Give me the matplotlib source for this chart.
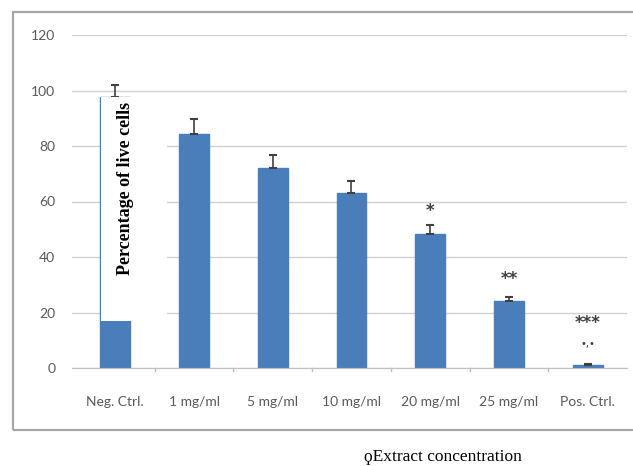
import matplotlib
matplotlib.use("Agg")
import matplotlib.pyplot as plt
from matplotlib.patches import Rectangle

categories = ["Neg. Ctrl.", "1 mg/ml", "5 mg/ml", "10 mg/ml", "20 mg/ml", "25 mg/ml", "Pos. Ctrl."]
values = [97.5, 84.3, 72.2, 63.0, 48.3, 24.1, 1.0]
errors = [4.5, 5.3, 4.5, 4.3, 3.2, 1.4, 0.3]
sig_labels = ["", "", "", "", "*", "**", "***"]
yticks = [0, 20, 40, 60, 80, 100, 120]

W, H = 633, 466
fig = plt.figure(figsize=(W / 100, H / 100), dpi=100)
fig.patch.set_facecolor("white")

# outer chart frame
frame = Rectangle((13 / W, 1 - 430 / H), 640 / W, (430 - 12) / H, transform=fig.transFigure,
                  fill=False, edgecolor="#a6a6a6", linewidth=1.6, zorder=0)
fig.patches.append(frame)

ax = fig.add_axes([72 / W, 1 - 368 / H, (627 - 72) / W, (368 - 35) / H])
x = list(range(len(categories)))
ax.bar(x, values, width=0.38, color="#4a7ebb", edgecolor="#4a7ebb", zorder=2)
ax.errorbar(x, values, yerr=[[0] * len(errors), errors], fmt="none", ecolor="#404040",
            elinewidth=1.2, capsize=3, capthick=1.5, zorder=3)

ax.set_ylim(0, 120)
ax.set_xlim(-0.55, 6.5)
ax.set_yticks(yticks)
ax.set_xticks(x)
ax.set_xticklabels(categories)
for sp in ["top", "right", "left"]:
    ax.spines[sp].set_visible(False)
ax.spines["bottom"].set_color("#bfbfbf")
ax.yaxis.grid(True, color="#d0d0d0", linewidth=1.0, zorder=0)
ax.set_axisbelow(True)
ax.tick_params(axis="y", length=0, pad=12, labelsize=10, labelcolor="#595959")
ax.tick_params(axis="x", length=0, pad=20, labelsize=10, labelcolor="#595959")
for lab in ax.get_xticklabels() + ax.get_yticklabels():
    lab.set_family("Lato")
# small category separator ticks
for b in [0.5, 1.5, 2.5, 3.5, 4.5, 5.5]:
    ax.plot([b, b], [0, -1.2], color="#bfbfbf", lw=1, clip_on=False)

# significance marks
sig_y = [0, 0, 0, 0, 53.5, 29.0, 12.8]
for i, s in enumerate(sig_labels):
    if s:
        ax.text(i, sig_y[i], s, ha="center", va="bottom", fontsize=12,
                color="#404040", fontweight="bold")
ax.text(6, 7.0, "\u2022,\u2022", ha="center", va="bottom", fontsize=7, color="#404040")

# white label box with rotated y label
box = Rectangle((101 / W, 1 - 321 / H), 66 / W, (321 - 97) / H, transform=fig.transFigure,
                facecolor="white", edgecolor="none", zorder=5)
fig.patches.append(box)
fig.text(125 / W, 1 - 188 / H, "Percentage of live cells", rotation=90, ha="center", va="center",
         fontsize=13, fontweight="bold", family=["Liberation Serif", "DejaVu Serif"], zorder=6)

fig.text(443 / W, 1 - 457 / H, "\u03d9Extract concentration", ha="center", va="center",
         fontsize=12.5, family=["Liberation Serif", "DejaVu Serif"])

fig.savefig("out.png", dpi=100)
